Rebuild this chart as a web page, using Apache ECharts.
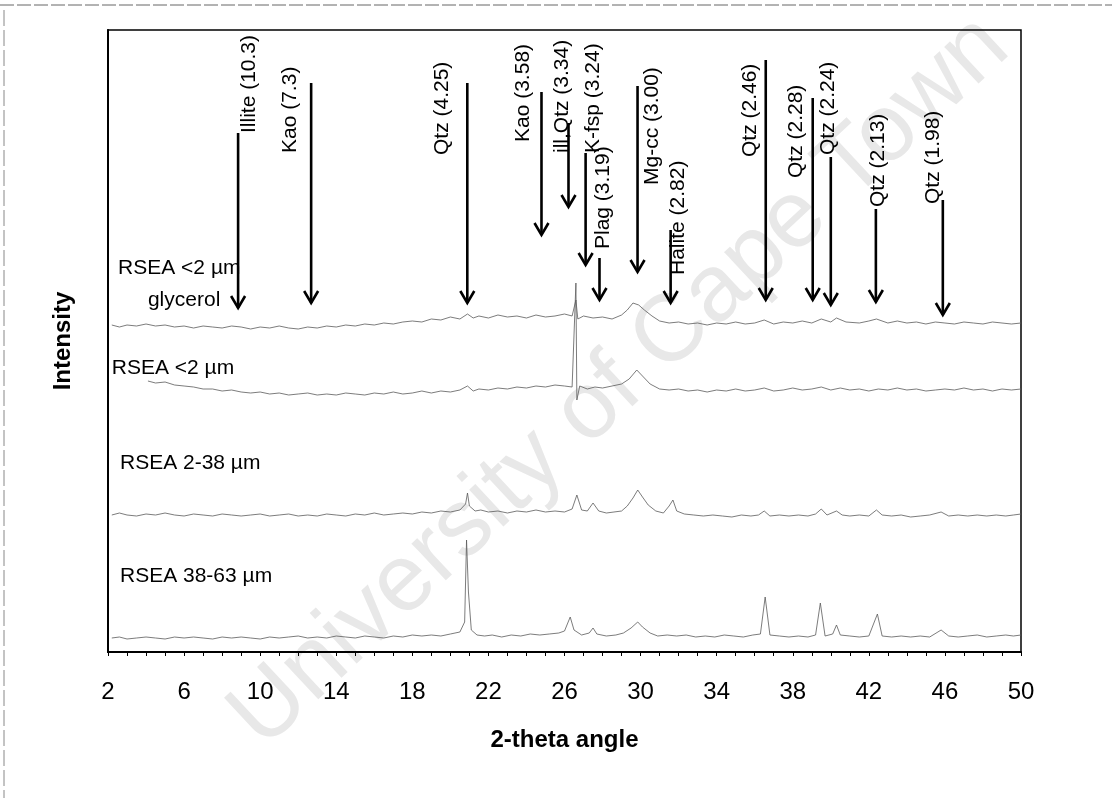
<!DOCTYPE html>
<html>
<head>
<meta charset="utf-8">
<script src="https://cdn.jsdelivr.net/npm/echarts@6/dist/echarts.min.js"></script>
<style>
html,body{margin:0;padding:0;background:#fff;}
#chart{width:1112px;height:798px;}
</style>
</head>
<body>
<div id="chart"></div>
<script>
// ---- x-axis tick labels (2-theta) ----
var tickLabels = [2, 6, 10, 14, 18, 22, 26, 30, 34, 38, 42, 46, 50];

// ---- diffractograms: [2-theta, offset intensity] ----
var glycerolClay = [[2.2,327],[2.6,325],[3.0,327],[3.5,326],[4.0,328],[4.5,326],[5.0,327],[5.5,325],[6.0,326],[6.5,324],[7.0,326],[7.5,325],[8.0,324],[8.5,326],[9.0,325],[9.5,323],[10.0,325],[10.5,324],[11.0,326],[11.5,324],[12.0,323],[12.5,325],[13.0,324],[13.5,326],[14.0,325],[14.5,327],[15.0,326],[15.5,328],[16.0,327],[16.5,329],[17.0,328],[17.5,330],[18.0,331],[18.5,330],[19.0,333],[19.5,332],[20.0,335],[20.5,333],[20.9,338],[21.2,334],[21.5,336],[22.0,334],[22.5,337],[23.0,335],[23.5,336],[24.0,334],[24.5,337],[25.0,335],[25.5,336],[26.0,338],[26.4,336],[26.6,352],[26.7,333],[27.0,336],[27.5,334],[28.0,335],[28.5,333],[29.0,337],[29.3,342],[29.6,349],[29.9,347],[30.2,342],[30.6,336],[31.0,331],[31.5,329],[32.0,330],[32.5,328],[33.0,329],[33.5,327],[34.0,329],[34.5,328],[35.0,330],[35.5,328],[36.0,329],[36.5,332],[37.0,328],[37.5,330],[38.0,329],[38.5,331],[39.0,329],[39.5,333],[40.0,330],[40.3,334],[40.8,330],[41.5,329],[42.0,331],[42.4,333],[43.0,329],[43.5,331],[44.0,329],[44.5,330],[45.0,328],[45.5,330],[46.0,329],[46.5,328],[47.0,330],[47.5,329],[48.0,328],[48.5,330],[49.0,329],[49.5,328],[50.0,329]];
var clayFraction = [[4.1,271],[4.5,269],[5.0,270],[5.5,267],[6.0,266],[6.5,265],[7.0,263],[7.5,263],[8.0,261],[8.5,262],[9.0,260],[9.5,259],[10.0,260],[10.5,258],[11.0,259],[11.5,257],[12.0,258],[12.5,259],[13.0,257],[13.5,258],[14.0,257],[14.5,259],[15.0,258],[15.5,257],[16.0,259],[16.5,258],[17.0,260],[17.5,258],[18.0,259],[18.5,261],[19.0,259],[19.5,261],[20.0,260],[20.5,262],[20.9,266],[21.2,261],[21.5,263],[22.0,262],[22.5,264],[23.0,263],[23.5,265],[24.0,264],[24.5,266],[25.0,265],[25.5,267],[26.0,266],[26.4,265],[26.6,369],[26.65,252],[26.8,266],[27.2,263],[27.6,265],[28.0,264],[28.5,266],[29.0,268],[29.4,273],[29.8,282],[30.1,276],[30.5,268],[31.0,263],[31.5,262],[32.0,263],[32.5,261],[33.0,262],[33.5,260],[34.0,262],[34.5,261],[35.0,263],[35.5,261],[36.0,262],[36.5,264],[37.0,261],[37.5,262],[38.0,264],[38.5,262],[39.0,263],[39.5,265],[40.0,262],[40.5,264],[41.0,262],[41.5,263],[42.0,261],[42.5,263],[43.0,262],[43.5,264],[44.0,262],[44.5,263],[45.0,261],[45.5,262],[46.0,263],[46.5,262],[47.0,264],[47.5,262],[48.0,263],[48.5,261],[49.0,263],[49.5,262],[50.0,263]];
var silt2to38 = [[2.2,137],[2.6,139],[3.0,137],[3.5,136],[4.0,138],[4.5,137],[5.0,139],[5.5,137],[6.0,136],[6.5,138],[7.0,137],[7.5,136],[8.0,138],[8.5,137],[9.0,136],[9.5,137],[10.0,138],[10.5,136],[11.0,137],[11.5,138],[12.0,136],[12.5,137],[13.0,136],[13.5,138],[14.0,137],[14.5,136],[15.0,138],[15.5,137],[16.0,139],[16.5,137],[17.0,138],[17.5,139],[18.0,138],[18.5,140],[19.0,139],[19.5,141],[20.0,140],[20.5,142],[20.8,148],[20.9,159],[21.0,146],[21.3,141],[21.6,142],[22.0,140],[22.5,141],[23.0,139],[23.5,141],[24.0,140],[24.5,142],[25.0,140],[25.5,141],[26.0,140],[26.4,143],[26.65,157],[26.9,142],[27.2,141],[27.5,149],[27.8,141],[28.2,139],[28.6,140],[29.0,141],[29.3,146],[29.6,154],[29.85,162],[30.1,155],[30.4,147],[30.8,141],[31.2,139],[31.5,146],[31.7,152],[31.9,141],[32.3,138],[32.8,137],[33.3,136],[33.8,137],[34.3,136],[34.8,135],[35.3,137],[35.8,136],[36.2,137],[36.5,141],[36.8,136],[37.3,137],[37.8,136],[38.3,137],[38.8,136],[39.2,138],[39.5,143],[39.8,137],[40.3,141],[40.6,137],[41.0,136],[41.5,137],[42.0,136],[42.4,142],[42.7,137],[43.2,136],[43.7,137],[44.2,135],[44.7,136],[45.2,137],[45.8,140],[46.2,136],[46.7,137],[47.2,136],[47.7,137],[48.2,136],[48.7,137],[49.2,136],[49.6,137],[50.0,138]];
var silt38to63 = [[2.2,14],[2.6,15],[3.0,13],[3.5,14],[4.0,15],[4.5,14],[5.0,13],[5.5,15],[6.0,14],[6.5,15],[7.0,14],[7.5,13],[8.0,15],[8.5,14],[9.0,15],[9.5,14],[10.0,13],[10.5,15],[11.0,14],[11.5,15],[12.0,16],[12.5,14],[13.0,15],[13.5,14],[14.0,16],[14.5,15],[15.0,14],[15.5,16],[16.0,15],[16.5,14],[17.0,16],[17.5,15],[18.0,17],[18.5,16],[19.0,17],[19.5,16],[20.0,18],[20.5,20],[20.75,30],[20.85,112],[20.95,60],[21.1,22],[21.4,17],[21.8,16],[22.2,17],[22.7,15],[23.2,17],[23.7,16],[24.2,18],[24.7,17],[25.2,18],[25.7,19],[26.0,21],[26.3,35],[26.5,22],[26.9,17],[27.3,19],[27.5,24],[27.7,18],[28.2,16],[28.7,17],[29.1,19],[29.5,24],[29.85,30],[30.1,25],[30.5,19],[30.9,16],[31.4,17],[31.9,16],[32.4,17],[32.9,15],[33.4,16],[33.9,15],[34.4,17],[34.9,16],[35.4,15],[35.9,17],[36.3,18],[36.55,55],[36.8,17],[37.3,16],[37.8,15],[38.3,16],[38.8,15],[39.2,17],[39.45,49],[39.7,16],[40.1,18],[40.3,27],[40.5,17],[41.0,16],[41.5,15],[42.0,16],[42.45,38],[42.7,16],[43.2,15],[43.7,16],[44.2,15],[44.7,16],[45.2,15],[45.8,22],[46.2,16],[46.7,15],[47.2,16],[47.7,17],[48.2,15],[48.7,16],[49.2,17],[49.6,16],[50.0,17]];

// ---- sample labels ----
var sampleNames  = ['RSEA <2 \u00b5m', 'glycerol', 'RSEA <2 \u00b5m', 'RSEA 2-38 \u00b5m', 'RSEA 38-63 \u00b5m'];
var sampleAngle  = [2.53, 4.1, 2.2, 2.63, 2.63];
var sampleLevel  = [384, 352, 284, 189, 76];

// ---- peak annotations ----
var peakLabels   = ['Illite (10.3)', 'Kao (7.3)', 'Qtz (4.25)', 'Kao (3.58)', 'ill,Qtz (3.34)', 'K-fsp (3.24)', 'Plag (3.19)', 'Mg-cc (3.00)', 'Halite (2.82)', 'Qtz (2.46)', 'Qtz (2.28)', 'Qtz (2.24)', 'Qtz (2.13)', 'Qtz (1.98)'];
var peakAngle    = [8.84, 12.68, 20.89, 24.79, 26.21, 27.11, 27.84, 29.84, 31.58, 36.58, 39.05, 40.0, 42.37, 45.89];
var arrowTop     = [519, 569, 569, 560, 529, 499, 394, 566, 422, 592, 554, 495, 443, 452];
var arrowTip     = [344, 349, 349, 417, 445, 387, 352, 380, 349, 352, 352, 347, 350, 337];
var labelAngle   = [9.42, 11.58, 19.58, 23.84, 25.89, 27.53, 28.05, 30.63, 32.0, 35.74, 38.16, 39.84, 42.47, 45.37];
var labelBase    = [519, 499, 497, 510, 499, 499, 403, 467, 377, 495, 474, 497, 445, 448];

var FONT = '"Liberation Sans", Arial, sans-serif';

var annData = peakLabels.map(function (l, i) {
  return [peakAngle[i], arrowTop[i], arrowTip[i], labelAngle[i], labelBase[i]];
});
var sampleData = sampleNames.map(function (n, i) { return [sampleAngle[i], sampleLevel[i]]; });

var chart = echarts.init(document.getElementById('chart'), null, {renderer: 'canvas'});

function traceSeries(data) {
  return {
    type: 'line', data: data, showSymbol: false, symbol: 'none', silent: true,
    lineStyle: {color: '#5a5a5a', width: 0.8}, z: 3, animation: false
  };
}

chart.setOption({
  animation: false,
  backgroundColor: '#fff',
  graphic: [
    {type: 'text', z: -10, silent: true,
     x: 620, y: 382,
     rotation: 43 * Math.PI / 180,
     style: {text: 'University of Cape Town', fontSize: 95, fontFamily: FONT, fill: '#e8e8e8',
             align: 'center', verticalAlign: 'middle'}},
    {type: 'line', z: -5, shape: {x1: 0, y1: 5, x2: 1112, y2: 5}, style: {stroke: '#666', lineWidth: 1, lineDash: [14, 3]}},
    {type: 'line', z: -5, shape: {x1: 4, y1: 10, x2: 4, y2: 798}, style: {stroke: '#888', lineWidth: 1, lineDash: [16, 4]}}
  ],
  grid: {left: 108, right: 91, top: 30, bottom: 146, show: true, borderColor: '#000', borderWidth: 1.5, backgroundColor: 'transparent'},
  xAxis: {
    type: 'value', min: 2, max: 50, interval: 1,
    name: '2-theta angle', nameLocation: 'middle', nameGap: 76,
    nameTextStyle: {fontSize: 24, fontWeight: 'bold', fontFamily: FONT, color: '#000'},
    axisLine: {show: true, lineStyle: {color: '#000', width: 2}},
    axisTick: {show: true, length: 4, lineStyle: {color: '#000', width: 1}},
    axisLabel: {
      margin: 28, fontSize: 24, fontFamily: FONT, color: '#000',
      formatter: function (v) { return tickLabels.indexOf(v) >= 0 ? String(v) : ''; }
    },
    splitLine: {show: false}
  },
  yAxis: {
    type: 'value', min: 0, max: 622,
    name: 'Intensity', nameLocation: 'middle', nameGap: 33, nameRotate: 90,
    nameTextStyle: {fontSize: 24, fontWeight: 'bold', fontFamily: FONT, color: '#000'},
    axisLine: {show: true, lineStyle: {color: '#000', width: 2}},
    axisTick: {show: false}, axisLabel: {show: false}, splitLine: {show: false}
  },
  series: [
    traceSeries(glycerolClay),
    traceSeries(clayFraction),
    traceSeries(silt2to38),
    traceSeries(silt38to63),
    {
      type: 'custom', data: annData, z: 5, silent: true, clip: false,
      encode: {x: [0, 3], y: [1, 2, 4]},
      renderItem: function (params, api) {
        var top = api.coord([api.value(0), api.value(1)]);
        var tip = api.coord([api.value(0), api.value(2)]);
        var t = api.coord([api.value(3), api.value(4)]);
        return {
          type: 'group',
          children: [
            {type: 'line', shape: {x1: top[0], y1: top[1], x2: tip[0], y2: tip[1]},
             style: {stroke: '#000', lineWidth: 2.6}},
            {type: 'polyline', shape: {points: [[tip[0] - 7, tip[1] - 12], [tip[0], tip[1]], [tip[0] + 7, tip[1] - 12]]},
             style: {stroke: '#000', fill: null, lineWidth: 2.6}},
            {type: 'text', x: t[0], y: t[1], rotation: Math.PI / 2,
             style: {text: peakLabels[params.dataIndex], fontSize: 21, fontFamily: FONT, fill: '#000',
                     align: 'left', verticalAlign: 'middle'}}
          ]
        };
      }
    },
    {
      type: 'custom', data: sampleData, z: 6, silent: true, clip: false,
      renderItem: function (params, api) {
        var p = api.coord([api.value(0), api.value(1)]);
        return {type: 'text', x: p[0], y: p[1],
                style: {text: sampleNames[params.dataIndex], fontSize: 21, fontFamily: FONT, fill: '#000',
                        align: 'left', verticalAlign: 'middle'}};
      }
    }
  ]
});
</script>
</body>
</html>
